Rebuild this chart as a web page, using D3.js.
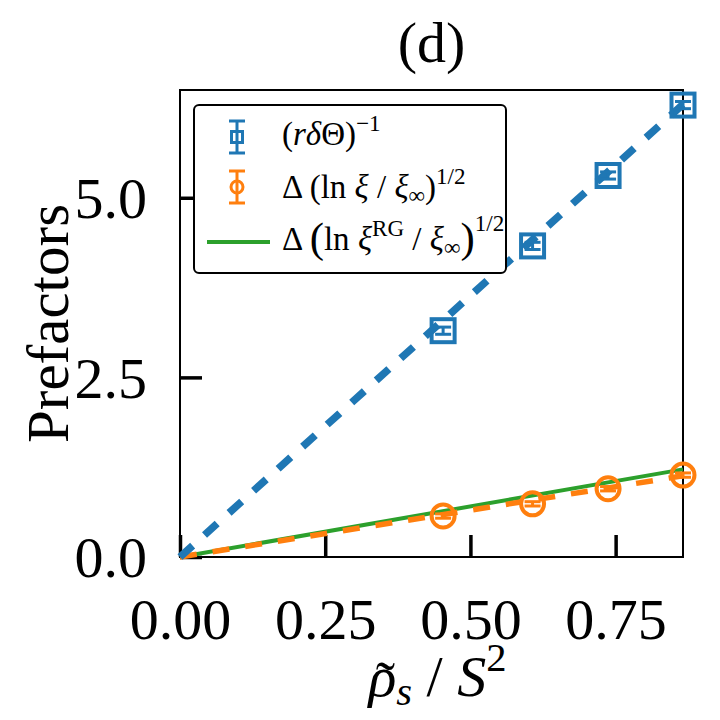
<!DOCTYPE html>
<html>
<head>
<meta charset="utf-8">
<script src="https://cdn.jsdelivr.net/npm/d3@7"></script>
<style>
  body { margin: 0; background: #fff; }
  text { font-family: "Liberation Serif", "DejaVu Serif", serif; fill: #000; }
</style>
</head>
<body>
<svg id="chart"></svg>
<script>
// data
const rhoVals = [0.453, 0.607, 0.737, 0.866];
const invThetaVals = [3.15, 4.33, 5.31, 6.29];
const invThetaErr = [0.05, 0.05, 0.05, 0.05];
const xiVals = [0.57, 0.74, 0.95, 1.14];
const xiErr = [0.03, 0.03, 0.03, 0.03];

// straight lines from the origin (end points)
const fitRho = [0, 0.866];
const fitTheta = [0, 6.30];
const fitXi = [0, 1.13];
const rgXi = [0, 1.22];

const xTicks = [0, 0.25, 0.5, 0.75];
const xTickLabels = ['0.00', '0.25', '0.50', '0.75'];
const yTicks = [0, 2.5, 5.0];
const yTickLabels = ['0.0', '2.5', '5.0'];

const colors = { blue: '#1f77b4', orange: '#ff7f0e', green: '#2ca02c' };

let config = { svg: {}, plot: {} };
config.svg.width = 720;
config.svg.height = 720;
config.plot.left = 180;
config.plot.right = 683;
config.plot.top = 90;
config.plot.bottom = 557;

let svg = d3.select('svg#chart')
  .attr('width', config.svg.width)
  .attr('height', config.svg.height);

let scale = {};
scale.x = d3.scaleLinear().domain([0, 0.866]).range([config.plot.left, config.plot.right]);
scale.y = d3.scaleLinear().domain([0, 6.5]).range([config.plot.bottom, config.plot.top]);

// axes with inward ticks
let axis = {};
axis.x = d3.axisBottom(scale.x).tickValues(xTicks)
  .tickFormat((d, i) => xTickLabels[i]).tickSize(-22).tickSizeOuter(0);
axis.y = d3.axisLeft(scale.y).tickValues(yTicks)
  .tickFormat((d, i) => yTickLabels[i]).tickSize(-22).tickSizeOuter(0);

let gx = svg.append('g')
  .attr('transform', translate(0, config.plot.bottom))
  .call(axis.x);
gx.select('.domain').remove();
gx.selectAll('.tick line').attr('stroke', '#000').style('stroke-width', '3.5px');
gx.selectAll('text')
  .attr('y', 82).attr('dy', null)
  .attr('font-size', 58)
  .attr('font-family', null);

let gy = svg.append('g')
  .attr('transform', translate(config.plot.left, 0))
  .call(axis.y);
gy.select('.domain').remove();
gy.selectAll('.tick line').attr('stroke', '#000').style('stroke-width', '3.5px');
gy.selectAll('text')
  .attr('x', -33).attr('dy', '0.34em')
  .attr('font-size', 58)
  .attr('font-family', null);

// frame
svg.append('rect')
  .attr('x', config.plot.left)
  .attr('y', config.plot.top)
  .attr('width', config.plot.right - config.plot.left)
  .attr('height', config.plot.bottom - config.plot.top)
  .attr('fill', 'none')
  .attr('stroke', '#000')
  .attr('stroke-width', 2);

let plot = svg.append('g').attr('id', 'plot');

let line = d3.line()
  .x(d => scale.x(d[0]))
  .y(d => scale.y(d[1]));

plot.append('path')
  .datum(d3.zip(fitRho, rgXi))
  .attr('d', line)
  .attr('fill', 'none')
  .attr('stroke', colors.green)
  .attr('stroke-width', 4);

plot.append('path')
  .datum(d3.zip(fitRho, fitXi))
  .attr('d', line)
  .attr('fill', 'none')
  .attr('stroke', colors.orange)
  .attr('stroke-width', 5.5)
  .attr('stroke-dasharray', '17 16');

plot.append('path')
  .datum(d3.zip(fitRho, fitTheta))
  .attr('d', line)
  .attr('fill', 'none')
  .attr('stroke', colors.blue)
  .attr('stroke-width', 7.5)
  .attr('stroke-dasharray', '17 16');

// error bars
function errorBars(xs, ys, errs, color) {
  let data = d3.zip(xs, ys, errs);
  let g = plot.append('g');
  g.selectAll('line.bar').data(data).enter().append('line')
    .attr('x1', d => scale.x(d[0])).attr('x2', d => scale.x(d[0]))
    .attr('y1', d => scale.y(d[1] - d[2])).attr('y2', d => scale.y(d[1] + d[2]))
    .attr('stroke', color).attr('stroke-width', 3);
  [-1, 1].forEach(s => {
    g.selectAll('line.cap' + s).data(data).enter().append('line')
      .attr('x1', d => scale.x(d[0]) - 8).attr('x2', d => scale.x(d[0]) + 8)
      .attr('y1', d => scale.y(d[1] + s * d[2])).attr('y2', d => scale.y(d[1] + s * d[2]))
      .attr('stroke', color).attr('stroke-width', 3);
  });
}

errorBars(rhoVals, xiVals, xiErr, colors.orange);
plot.append('g').selectAll('circle')
  .data(d3.zip(rhoVals, xiVals)).enter().append('circle')
  .attr('cx', d => scale.x(d[0]))
  .attr('cy', d => scale.y(d[1]))
  .attr('r', 11.5)
  .attr('fill', 'none')
  .attr('stroke', colors.orange)
  .attr('stroke-width', 4);

errorBars(rhoVals, invThetaVals, invThetaErr, colors.blue);
plot.append('g').selectAll('rect')
  .data(d3.zip(rhoVals, invThetaVals)).enter().append('rect')
  .attr('x', d => scale.x(d[0]) - 11.5)
  .attr('y', d => scale.y(d[1]) - 11.5)
  .attr('width', 23)
  .attr('height', 23)
  .attr('fill', 'none')
  .attr('stroke', colors.blue)
  .attr('stroke-width', 4);

// text with italic parts, sub- and superscripts
function rich(sel, parts, size) {
  let cur = 0;
  parts.forEach(p => {
    let t = sel.append('tspan').text(p.t);
    let off = -(p.up || 0);
    if (off !== cur) t.attr('dy', off - cur);
    cur = off;
    if (p.i) t.attr('font-style', 'italic');
    if (p.s) t.attr('font-size', size * p.s);
  });
  return sel;
}

// legend
let legend = svg.append('g').attr('id', 'legend');
legend.append('rect')
  .attr('x', 194).attr('y', 105)
  .attr('width', 312).attr('height', 168)
  .attr('rx', 5)
  .attr('fill', '#fff')
  .attr('stroke', '#000')
  .attr('stroke-width', 2);

let lx = 237;
// blue handle
legend.append('line').attr('x1', lx).attr('x2', lx).attr('y1', 121).attr('y2', 153)
  .attr('stroke', colors.blue).attr('stroke-width', 3);
[121, 153].forEach(y => legend.append('line')
  .attr('x1', lx - 8).attr('x2', lx + 8).attr('y1', y).attr('y2', y)
  .attr('stroke', colors.blue).attr('stroke-width', 3));
legend.append('rect').attr('x', lx - 5.5).attr('y', 131.5).attr('width', 11).attr('height', 11)
  .attr('fill', 'none').attr('stroke', colors.blue).attr('stroke-width', 3);
// orange handle
legend.append('line').attr('x1', lx).attr('x2', lx).attr('y1', 171).attr('y2', 203)
  .attr('stroke', colors.orange).attr('stroke-width', 3);
[171, 203].forEach(y => legend.append('line')
  .attr('x1', lx - 8).attr('x2', lx + 8).attr('y1', y).attr('y2', y)
  .attr('stroke', colors.orange).attr('stroke-width', 3));
legend.append('circle').attr('cx', lx).attr('cy', 187).attr('r', 6)
  .attr('fill', 'none').attr('stroke', colors.orange).attr('stroke-width', 3);
// green handle
legend.append('line').attr('x1', 207).attr('x2', 270).attr('y1', 242).attr('y2', 242)
  .attr('stroke', colors.green).attr('stroke-width', 4);

let fs = 33;
rich(legend.append('text').attr('x', 282).attr('y', 145).attr('font-size', fs), [
  { t: '(' }, { t: 'r', i: true }, { t: 'δ', i: true }, { t: 'Θ)' },
  { t: '−1', s: 0.7, up: 14 }
], fs);
rich(legend.append('text').attr('x', 282).attr('y', 198).attr('font-size', fs), [
  { t: 'Δ (ln ' }, { t: 'ξ', i: true }, { t: ' / ' }, { t: 'ξ', i: true },
  { t: '∞', s: 0.7, up: -5 }, { t: ')' }, { t: '1/2', s: 0.7, up: 14 }
], fs);
rich(legend.append('text').attr('x', 282).attr('y', 250).attr('font-size', fs), [
  { t: 'Δ ' }, { t: '(', s: 1.3, up: -2 }, { t: 'ln ' }, { t: 'ξ', i: true },
  { t: 'RG', s: 0.7, up: 14 }, { t: ' / ' }, { t: 'ξ', i: true },
  { t: '∞', s: 0.7, up: -5 }, { t: ')', s: 1.3, up: -2 }, { t: '1/2', s: 0.7, up: 19 }
], fs);

// titles
let cx = (config.plot.left + config.plot.right) / 2;
svg.append('text')
  .attr('x', cx).attr('y', 62)
  .attr('text-anchor', 'middle')
  .attr('font-size', 58)
  .text('(d)');

let xlab = rich(svg.append('text')
  .attr('x', cx + 6).attr('y', 696)
  .attr('text-anchor', 'middle')
  .attr('font-size', 58), [
  { t: 'ρ', i: true }, { t: 's', i: true, s: 0.7, up: -9 },
  { t: ' / ' }, { t: 'S', i: true }, { t: '2', s: 0.7, up: 25 }
], 58);
// tilde accent over rho
let xnode = xlab.node();
let rhoStart = xnode.getStartPositionOfChar(0).x;
let rhoEnd = xnode.getEndPositionOfChar(0).x;
svg.append('text')
  .attr('x', (rhoStart + rhoEnd) / 2 + 3).attr('y', 701)
  .attr('text-anchor', 'middle')
  .attr('font-size', 58)
  .text('˜');

svg.append('text')
  .attr('transform', 'translate(68,' + ((config.plot.top + config.plot.bottom) / 2) + ') rotate(-90)')
  .attr('text-anchor', 'middle')
  .attr('font-size', 59)
  .text('Prefactors');

function translate(x, y) {
  return 'translate(' + x + ',' + y + ')';
}
</script>
</body>
</html>
